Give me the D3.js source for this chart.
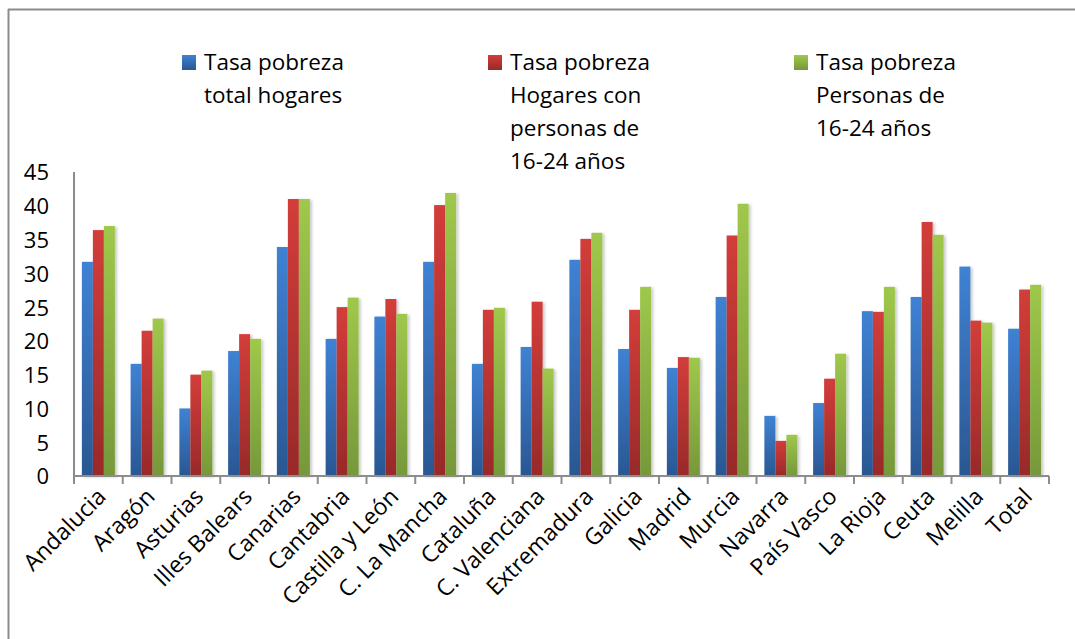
<!DOCTYPE html>
<html>
<head>
<meta charset="utf-8">
<script src="https://cdn.jsdelivr.net/npm/d3@7"></script>
<style>
  html, body { margin: 0; padding: 0; background: #ffffff; }
  svg { display: block; font-family: "Open Sans", "DejaVu Sans", sans-serif; }
</style>
</head>
<body>
<svg id="chart" width="1075" height="639"></svg>
<script>
const categories = ["Andalucia", "Aragón", "Asturias", "Illes Balears", "Canarias", "Cantabria",
  "Castilla y León", "C. La Mancha", "Cataluña", "C. Valenciana", "Extremadura", "Galicia",
  "Madrid", "Murcia", "Navarra", "País Vasco", "La Rioja", "Ceuta", "Melilla", "Total"];

const seriesNames = [
  ["Tasa pobreza", "total hogares"],
  ["Tasa pobreza", "Hogares con", "personas de", "16-24 años"],
  ["Tasa pobreza", "Personas de", "16-24 años"]
];

const totalHogares = [31.7, 16.6, 10.0, 18.5, 33.9, 20.3, 23.6, 31.7, 16.6, 19.1, 32.0, 18.8, 16.0, 26.5, 8.9, 10.8, 24.4, 26.5, 31.0, 21.8];
const hogaresJovenes = [36.4, 21.5, 15.0, 21.0, 41.0, 25.0, 26.2, 40.1, 24.6, 25.8, 35.1, 24.6, 17.6, 35.6, 5.2, 14.4, 24.3, 37.6, 23.0, 27.6];
const personasJovenes = [37.0, 23.3, 15.6, 20.3, 41.0, 26.4, 24.0, 41.9, 24.9, 15.9, 36.0, 28.0, 17.5, 40.3, 6.1, 18.1, 28.0, 35.7, 22.7, 28.3];

const yTicks = [0, 5, 10, 15, 20, 25, 30, 35, 40, 45];

const seriesValues = [totalHogares, hogaresJovenes, personasJovenes];
const colorsTop = ["#3f82d4", "#d33d3a", "#9fc84b"];
const colorsBottom = ["#2a5792", "#982a2a", "#76983a"];

const svg = d3.select("#chart");
const defs = svg.append("defs");
colorsTop.forEach((c, i) => {
  const g = defs.append("linearGradient").attr("id", "grad" + i)
    .attr("x1", 0).attr("y1", 0).attr("x2", 0).attr("y2", 1);
  g.append("stop").attr("offset", "0%").attr("stop-color", c);
  g.append("stop").attr("offset", "100%").attr("stop-color", colorsBottom[i]);
});
const sh = defs.append("filter").attr("id", "shadow").attr("x", "-20%").attr("y", "-5%").attr("width", "160%").attr("height", "115%");
sh.append("feDropShadow").attr("dx", 2).attr("dy", 1).attr("stdDeviation", 1.8).attr("flood-color", "#000").attr("flood-opacity", 0.22);
const gsh = defs.append("filter").attr("id", "gshadow").attr("x", "0").attr("y", "-100%").attr("width", "100%").attr("height", "400%");
gsh.append("feDropShadow").attr("dx", 0).attr("dy", 1.5).attr("stdDeviation", 0.8).attr("flood-color", "#000").attr("flood-opacity", 0.25);

// outer frame (top and left edges visible)
svg.append("line").attr("x1", 8).attr("x2", 1075).attr("y1", 9.5).attr("y2", 9.5)
  .attr("stroke", "#8c8c8c").attr("stroke-width", 2);
svg.append("line").attr("x1", 8.5).attr("x2", 8.5).attr("y1", 9).attr("y2", 639)
  .attr("stroke", "#8c8c8c").attr("stroke-width", 2);

const plotLeft = 74, plotRight = 1049, plotTop = 172, plotBottom = 476;

const x0 = d3.scaleBand().domain(categories).range([plotLeft, plotRight])
  .paddingInner(0.323).paddingOuter(0.1615);
const x1 = d3.scaleBand().domain([0, 1, 2]).range([0, x0.bandwidth()]);
const y = d3.scaleLinear().domain([0, 45]).range([plotBottom, plotTop]);

// gridlines
svg.append("g").selectAll("line").data(yTicks).join("line")
  .attr("x1", plotLeft - 8).attr("x2", plotRight)
  .attr("y1", d => y(d)).attr("y2", d => y(d))
  .attr("stroke", "#8c8c8c").attr("stroke-width", 2)
  .attr("filter", "url(#gshadow)");

// y axis
const yAxis = d3.axisLeft(y).tickValues(yTicks).tickSize(0).tickPadding(0).tickFormat(d3.format("d"));
const yg = svg.append("g").attr("transform", `translate(${plotLeft},0)`).call(yAxis);
yg.select(".domain").remove();
yg.selectAll("text").attr("x", -25).attr("dy", "0.36em")
  .attr("font-size", 22).attr("fill", "#000").attr("font-family", "\"Open Sans\", sans-serif");

// bars
const groups = svg.append("g").selectAll("g").data(categories).join("g")
  .attr("transform", d => `translate(${x0(d)},0)`);
groups.selectAll("rect").data((d, i) => seriesValues.map((s, k) => ({ k, v: s[i] }))).join("rect")
  .attr("x", d => x1(d.k)).attr("width", x1.bandwidth())
  .attr("y", d => y(d.v)).attr("height", d => y(0) - y(d.v))
  .attr("fill", d => `url(#grad${d.k})`)
  .attr("filter", "url(#shadow)");

// vertical axis line
svg.append("line").attr("x1", plotLeft).attr("x2", plotLeft)
  .attr("y1", plotTop).attr("y2", plotBottom + 8)
  .attr("stroke", "#8c8c8c").attr("stroke-width", 2);

// x axis
const xTickPos = d3.range(categories.length + 1).map(i => plotLeft + i * x0.step());
svg.append("line").attr("x1", plotLeft).attr("x2", plotRight)
  .attr("y1", plotBottom).attr("y2", plotBottom)
  .attr("stroke", "#8c8c8c").attr("stroke-width", 2);
svg.append("g").selectAll("line").data(xTickPos).join("line")
  .attr("x1", d => d).attr("x2", d => d)
  .attr("y1", plotBottom).attr("y2", plotBottom + 8)
  .attr("stroke", "#8c8c8c").attr("stroke-width", 2);

const xAxis = d3.axisBottom(x0).tickSize(0);
const xg = svg.append("g").attr("transform", `translate(0,${plotBottom})`).call(xAxis);
xg.select(".domain").remove();
xg.selectAll(".tick text")
  .attr("font-size", 23).attr("fill", "#000").attr("font-family", "\"Open Sans\", sans-serif")
  .attr("text-anchor", "end")
  .attr("y", 0).attr("dy", 0)
  .attr("transform", "translate(9,22) rotate(-45)");

// legend
const legendX = [182, 488, 794];
const legend = svg.append("g");
seriesNames.forEach((lines, i) => {
  const g = legend.append("g").attr("transform", `translate(${legendX[i]},0)`);
  g.append("rect").attr("x", 0).attr("y", 55).attr("width", 14).attr("height", 15)
    .attr("fill", `url(#grad${i})`);
  g.append("text").attr("font-size", 22.5).attr("fill", "#000")
    .selectAll("tspan").data(lines).join("tspan")
    .attr("x", 22).attr("y", (d, j) => 70 + j * 33).text(d => d);
});
</script>
</body>
</html>
